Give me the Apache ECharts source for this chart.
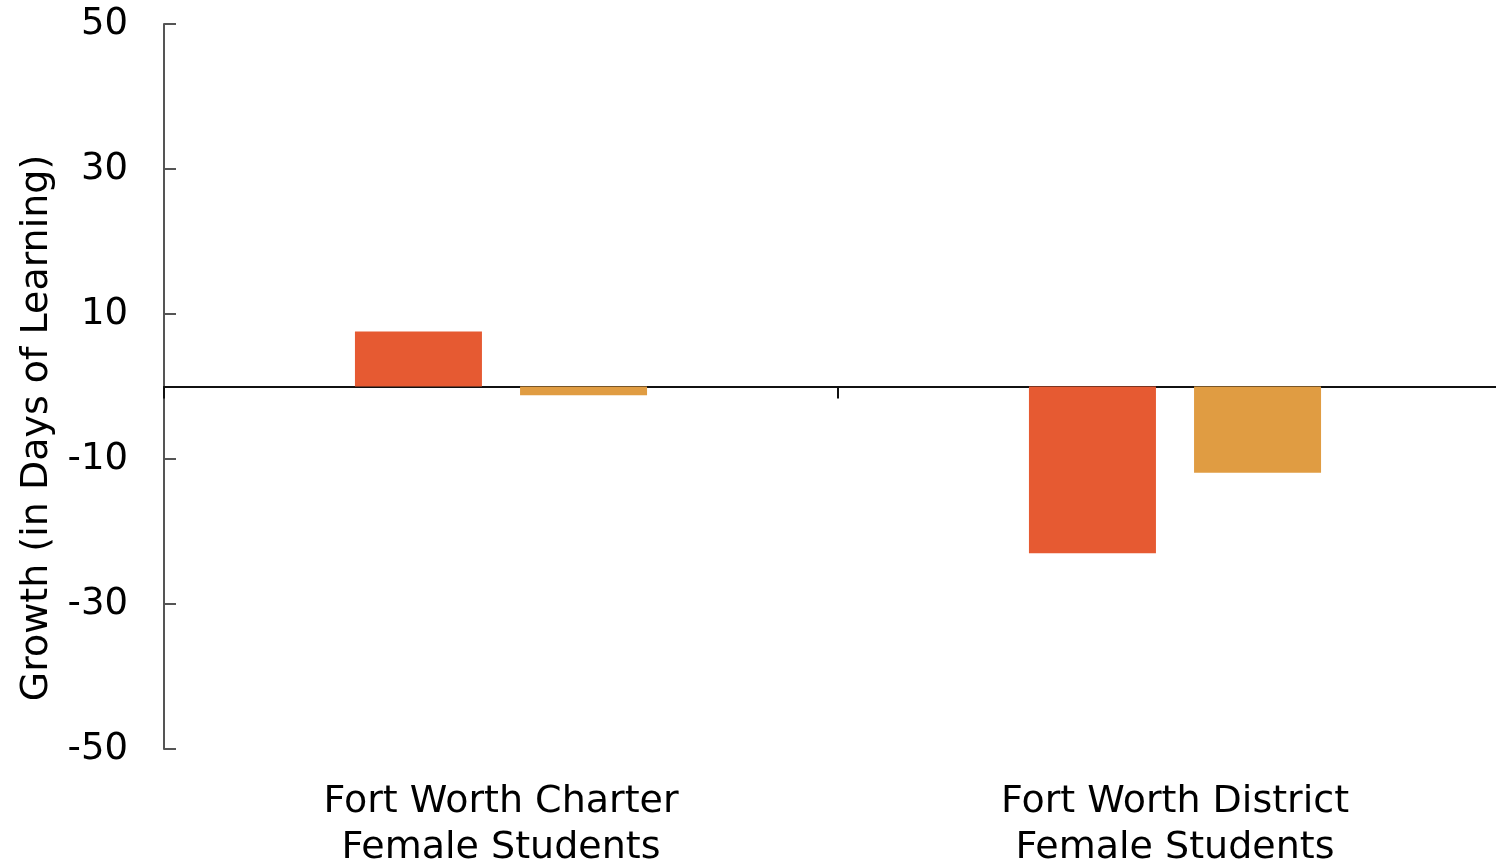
<!DOCTYPE html>
<html>
<head>
<meta charset="utf-8">
<script src="https://cdn.jsdelivr.net/npm/echarts@6/dist/echarts.min.js"></script>
<style>
  html, body { margin: 0; padding: 0; background: #fff; }
  #chart { width: 1496px; height: 862px; }
</style>
</head>
<body>
<div id="chart"></div>
<script>
// Categories and growth values (days of learning)
const categories = ['Fort Worth Charter\nFemale Students', 'Fort Worth District\nFemale Students'];
const seriesA = [7.6, -23.0];
const seriesB = [-1.2, -11.9];
const yTicks = [-50, -30, -10, 10, 30, 50];

const FONT = '"DejaVu Sans", Verdana, sans-serif';

const chart = echarts.init(document.getElementById('chart'));
chart.setOption({
  animation: false,
  grid: {
    left: 164, right: -16, top: 24, bottom: 113,
    containLabel: false, outerBoundsMode: 'none'
  },
  xAxis: [
    {
      type: 'category',
      data: categories,
      position: 'bottom',
      axisLine: { show: false, onZero: false },
      axisTick: { show: false },
      axisLabel: {
        color: '#000', fontFamily: FONT, fontSize: 38, lineHeight: 46, margin: 30
      }
    },
    {
      type: 'category',
      data: categories,
      position: 'bottom',
      axisLine: { show: true, onZero: true, lineStyle: { color: '#111', width: 2 } },
      axisTick: { show: true, length: 12, lineStyle: { color: '#111', width: 2 } },
      axisLabel: { show: false }
    }
  ],
  yAxis: {
    type: 'value',
    min: -50, max: 50, interval: 20,
    axisLine: { show: true, lineStyle: { color: '#555', width: 2 } },
    axisTick: { show: true, inside: true, length: 12, lineStyle: { color: '#555', width: 2 } },
    splitLine: { show: false },
    axisLabel: {
      color: '#000', fontFamily: FONT, fontSize: 37, margin: 36,
      formatter: v => (yTicks.includes(v) ? String(v) : '')
    }
  },
  graphic: [{
    type: 'text',
    x: 37, y: 428,
    rotation: Math.PI / 2,
    style: {
      text: 'Growth (in Days of Learning)',
      fontFamily: FONT, fontSize: 38, fill: '#000',
      align: 'center', verticalAlign: 'middle'
    }
  }],
  series: [
    {
      type: 'bar', xAxisIndex: 0, data: seriesA,
      barWidth: 127, barGap: '30%',
      itemStyle: { color: '#E65A32' }
    },
    {
      type: 'bar', xAxisIndex: 0, data: seriesB,
      barWidth: 127, barGap: '30%',
      itemStyle: { color: '#E09C42' }
    }
  ]
});
</script>
</body>
</html>
